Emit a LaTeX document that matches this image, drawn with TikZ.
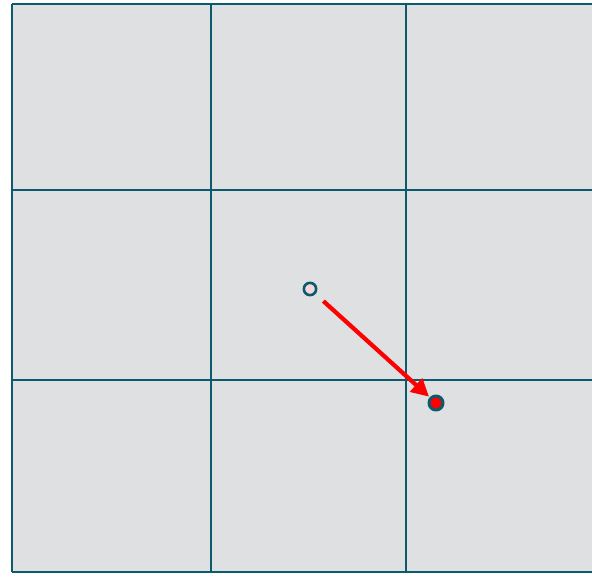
\documentclass[tikz,border=0pt]{standalone}
\usetikzlibrary{arrows.meta}
\definecolor{cellgray}{HTML}{DFE0E1}
\definecolor{gridteal}{HTML}{0B5A6E}
\definecolor{dotpink}{HTML}{F6D6DA}
\tikzset{
	gridline/.style={color=gridteal, line width=1.6pt},
	opendot/.style={circle, draw=gridteal, fill=dotpink, line width=1.5pt, inner sep=0pt, minimum size=7pt},
	fulldot/.style={circle, draw=gridteal, fill=red, line width=1.7pt, inner sep=0pt, minimum size=8pt},
	jump/.style={red, line width=2.4pt, -{Triangle[length=10pt, width=10pt]}}
}
\begin{document}
\begin{tikzpicture}[x=0.02cm, y=-0.02cm, line join=round]
				\def\xmin{12} \def\xmax{640}  \def\ymin{4}\def\ymax{572}
				\clip (0,0) rectangle (592,577);
				\fill[white] (0,0) rectangle (592,577);
				\fill[cellgray] (\xmin,\ymin) rectangle (\xmax,\ymax);
				\foreach \x in {12,211,406} \draw[gridline] (\x,\ymin)--(\x,\ymax);
				\foreach \y in {4,190,380,572} \draw[gridline] (\xmin,\y)--(\xmax,\y);
				\node[opendot] (start) at (310,289) {};
				\node[fulldot] (target) at (436,403) {};
				\draw[jump, shorten <=6pt, shorten >=0.5pt] (start)--(target);
			\end{tikzpicture}
\end{document}
